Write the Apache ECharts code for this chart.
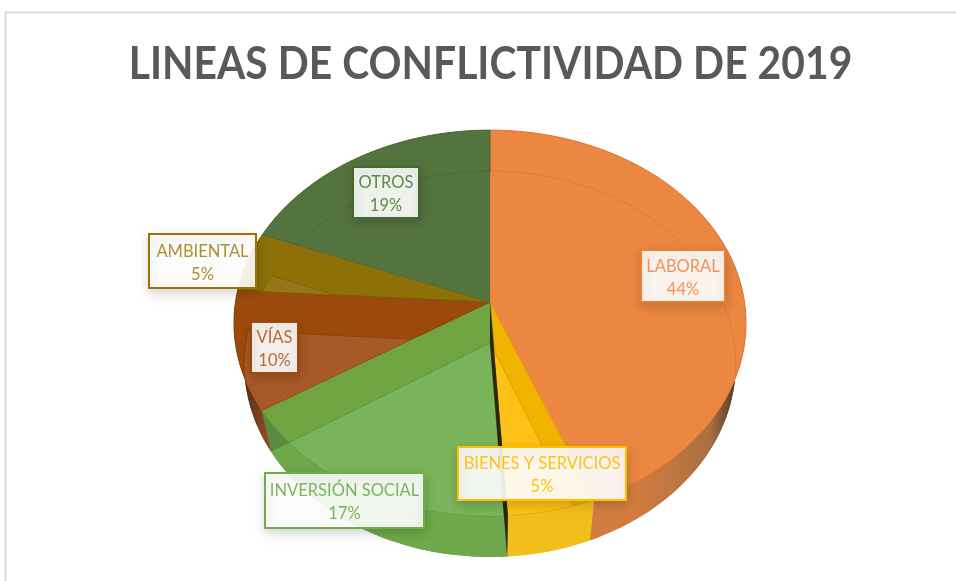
<!DOCTYPE html>
<html><head><meta charset="utf-8">
<style>html,body{margin:0;padding:0;background:#fff}#c{width:956px;height:581px}</style>
<script src="https://cdn.jsdelivr.net/npm/echarts@6/dist/echarts.min.js"></script>
</head><body><div id="c"></div>
<script>
const categories = ['LABORAL','BIENES Y SERVICIOS','INVERSIÓN SOCIAL','VÍAS','AMBIENTAL','OTROS'];
const percentValues = [44,5,17,10,5,19];
const chartTitle = 'LINEAS DE CONFLICTIVIDAD DE 2019';

// appearance, per category
const faceColors  = ['#ec8742','#f0b400','#70a440','#9c4a0c','#8d7008','#54743f'];
const innerColors = ['#ec8742','#fec218','#7ab55c','#a85a2a','#957818','#54743f'];
const wallColors  = ['#d47c3f','#f2be1c','#6fa84a','#8a4a20','#8d7008','#54743f'];
const edgeColors  = ['#e3763a','#d8a400','#5f9638','#8c4208','#7d6306','#4a6a36'];
const labelBorder = ['#ed7d31','#ffc000','#70ad47','#9e480e','#997300','#43682b'];
const labelText   = ['#ee945a','#fec218','#7ab55c','#b5683a','#ae8e2c','#5f8a4a'];
const labelBoxes  = [[641,250,84,52],[458,447,168,53],[265,473,159,55],[251,322,47,51],[149,234,107,54],[353,167,66,51]];

// view of the tilted 3D disc
const tilt = 0.109, squash = 0.749, depth = 41, floorScale = 0.96;

let acc = 0;
const spans = percentValues.map((v, i) => { const s = acc; acc += v; return {name: categories[i], value: [s, acc, v, i]}; });

function projector(api, dz, sx) {
  const c = api.coord([0, 0]);
  const t = api.coord([1, 0]);
  const R = Math.hypot(t[0] - c[0], t[1] - c[1]);
  return function (r, a) {
    const p = api.coord([r, a]);
    const u = (p[0] - c[0]) / R, v = (c[1] - p[1]) / R, w = 1 + tilt * v;
    return [c[0] + sx * R * u / w, c[1] - R * squash * v / w + dz];
  };
}
const topFace = api => projector(api, 0, 1);
const floorFace = api => projector(api, depth, floorScale);
function arc(proj, s, e) {
  const n = Math.max(2, Math.ceil((e - s) * 2)), out = [];
  for (let i = 0; i <= n; i++) out.push(proj(1, s + (e - s) * i / n));
  return out;
}
function wedge(proj, s, e) { return [proj(0, s)].concat(arc(proj, s, e)); }

function renderWalls(params, api) {
  const s = api.value(0), e = api.value(1), i = api.value(3);
  const top = topFace(api), bot = floorFace(api);
  const base = wallColors[i];
  const fill = new echarts.graphic.LinearGradient(234, 0, 746, 0, [
    {offset: 0, color: '#2e2010'}, {offset: 0.06, color: base},
    {offset: 0.78, color: base}, {offset: 0.93, color: '#a9703f'}, {offset: 0.985, color: '#4a3828'}, {offset: 1, color: '#3a2c1e'}
  ], true);
  return {type: 'group', children: [
    {type: 'polygon', shape: {points: wedge(bot, s, e)}, style: {fill: fill}},
    {type: 'polygon', shape: {points: arc(top, s, e).concat(arc(bot, s, e).reverse())}, style: {fill: fill}}
  ]};
}
function renderSideCut(params, api) {
  const e = api.value(1), i = api.value(3);
  if (!(e > 50 && e < 75)) return null;
  const top = topFace(api), bot = floorFace(api);
  return {type: 'polygon', shape: {points: [top(0, e), top(1, e), bot(1, e), bot(0, e)]}, style: {fill: '#5d8a42'}};
}
function renderFaces(params, api) {
  const s = api.value(0), e = api.value(1), i = api.value(3);
  const top = topFace(api);
  return {type: 'polygon', shape: {points: wedge(top, s, e)},
    style: {fill: faceColors[i], stroke: edgeColors[i], lineWidth: 1, lineJoin: 'round'}};
}
function renderInner(params, api) {
  const s = api.value(0), e = api.value(1), i = api.value(3);
  const top = topFace(api), bot = floorFace(api);
  return {type: 'polygon', shape: {points: wedge(bot, s, e)},
    clipPath: {type: 'polygon', shape: {points: wedge(top, s, e)}},
    style: {fill: innerColors[i], stroke: edgeColors[i], lineWidth: 1, opacity: 0.95}};
}
function renderCut(params, api) {
  const e = api.value(1);
  if (!(e > 47 && e < 50)) return null;
  const top = topFace(api), bot = floorFace(api);
  return {type: 'polygon', shape: {points: [top(0, e), top(1, e), bot(1, e), bot(0, e)]}, style: {fill: '#2e2406'}};
}
function renderLabels(params, api) {
  const i = api.value(3), b = labelBoxes[i];
  return {type: 'group', children: [
    {type: 'rect', shape: {x: b[0], y: b[1], width: b[2], height: b[3]},
      style: {fill: 'rgba(255,255,255,0.91)', stroke: labelBorder[i], lineWidth: 2,
        shadowBlur: 10, shadowOffsetX: 1, shadowOffsetY: 4, shadowColor: 'rgba(0,0,0,0.17)'}},
    {type: 'text', x: b[0] + b[2] / 2, y: b[1] + b[3] / 2 + 2,
      style: {text: categories[i] + '\n' + api.value(2) + '%', align: 'center', verticalAlign: 'middle',
        fill: labelText[i], font: '16.5px Lato', lineHeight: 23}}
  ]};
}
const layer = (fn, z) => ({type: 'custom', coordinateSystem: 'polar', data: spans, renderItem: fn, z: z, silent: true, animation: false, clip: false});

const chart = echarts.init(document.getElementById('c'), null, {renderer: 'canvas'});
chart.setOption({
  animation: false,
  backgroundColor: '#ffffff',
  polar: {center: [490, 302], radius: 254.5},
  angleAxis: {type: 'value', min: 0, max: 100, startAngle: 90, show: false},
  radiusAxis: {type: 'value', min: 0, max: 1, show: false},
  graphic: [
    {type: 'polyline', shape: {points: [[5.5, 581], [5.5, 12.5], [956, 12.5]]}, style: {stroke: '#d9d9d9', lineWidth: 2, fill: null}},
    {type: 'text', x: 490.5, y: 64.5, scaleX: 0.888,
      style: {text: chartTitle, align: 'center', verticalAlign: 'middle', font: 'bold 46px Lato', fill: '#595959'}}
  ],
  series: [
    layer(renderWalls, 2),
    layer(renderSideCut, 3),
    layer(renderFaces, 4),
    layer(renderInner, 5),
    layer(renderCut, 6),
    layer(renderLabels, 7)
  ]
});
</script></body></html>
